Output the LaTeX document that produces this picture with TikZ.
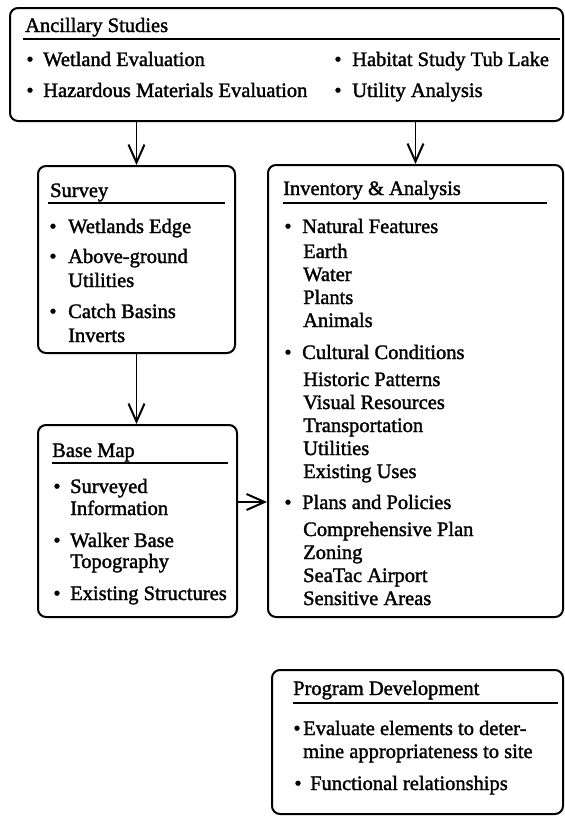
\documentclass[tikz,border=0pt]{standalone}
\usepackage{fontspec}
\setmainfont{Liberation Serif}[FakeBold=1.6]
\usetikzlibrary{arrows.meta}
\newcommand\fs{\fontsize{20.5}{24}\selectfont}
\tikzset{
  box/.style={draw=black, line width=2pt, rounded corners=8pt, inner sep=0pt},
  uline/.style={draw=black, line width=1.7pt},
  txt/.style={anchor=base west, inner sep=0pt, font=\fs},
  bul/.style={anchor=base, inner sep=0pt, font=\fs},
  arr/.style={draw=black, line width=1.5pt, -{Straight Barb[length=18pt,width=16pt,line width=2pt]}},
}
\newcommand\Item[5]{\node[bul] (#1b) at (#2,#4) {\textbullet}; \node[txt] (#1) at (#3,#4) {#5};}
\begin{document}
\begin{tikzpicture}[x=1pt,y=-1pt]
\useasboundingbox (0,0) rectangle (565,817);
% boxes
\node[box, minimum width=553pt, minimum height=113pt] (anc) at (286.5,64.5) {};
\node[box, minimum width=197pt, minimum height=187pt] (survey) at (136.5,259.5) {};
\node[box, minimum width=199pt, minimum height=192pt] (base) at (137.5,521) {};
\node[box, minimum width=295pt, minimum height=452pt] (inv) at (415.5,391) {};
\node[box, minimum width=291pt, minimum height=144pt] (prog) at (417.5,742) {};
% Ancillary
\node[txt] (ancT) at (25,32) {Ancillary Studies};
\draw[uline] (23,39) -- (560,39);
\Item{a1}{30}{43}{66}{Wetland Evaluation}
\Item{a2}{30}{43}{97}{Hazardous Materials Evaluation}
\Item{a3}{338}{352}{66}{Habitat Study Tub Lake}
\Item{a4}{338}{352}{97}{Utility Analysis}
% Survey
\node[txt] (surT) at (50,197) {Survey};
\draw[uline] (48,203) -- (225,203);
\Item{s1}{53}{68}{233}{Wetlands Edge}
\Item{s2}{53}{68}{263}{Above-ground}
\node[txt] (s2b2) at (68,287) {Utilities};
\Item{s3}{53}{68}{318}{Catch Basins}
\node[txt] (s3b2) at (68,342) {Inverts};
% Base Map
\node[txt] (basT) at (52,457) {Base Map};
\draw[uline] (52,463) -- (228,463);
\Item{b1}{57}{70}{493}{Surveyed}
\node[txt] (b1x) at (70,515) {Information};
\Item{b2}{57}{70}{547}{Walker Base}
\node[txt] (b2x) at (70,568) {Topography};
\Item{b3}{57}{70}{600}{Existing Structures}
% Inventory
\node[txt] (invT) at (283,195) {Inventory \& Analysis};
\draw[uline] (283,203) -- (547,203);
\Item{i1}{288}{302}{233}{Natural Features}
\node[txt] (i11) at (303,258) {Earth};
\node[txt] (i12) at (303,281) {Water};
\node[txt] (i13) at (303,304) {Plants};
\node[txt] (i14) at (303,327) {Animals};
\Item{i2}{288}{302}{359}{Cultural Conditions}
\node[txt] (i21) at (303,386) {Historic Patterns};
\node[txt] (i22) at (303,409) {Visual Resources};
\node[txt] (i23) at (303,432) {Transportation};
\node[txt] (i24) at (303,455) {Utilities};
\node[txt] (i25) at (303,478) {Existing Uses};
\Item{i3}{288}{302}{509}{Plans and Policies}
\node[txt] (i31) at (303,536) {Comprehensive Plan};
\node[txt] (i32) at (303,559) {Zoning};
\node[txt] (i33) at (303,582) {SeaTac Airport};
\node[txt] (i34) at (303,605) {Sensitive Areas};
% Program Development
\node[txt] (proT) at (293,695) {Program Development};
\draw[uline] (293,703) -- (558,703);
\Item{p1}{297}{303}{735}{Evaluate elements to deter-}
\node[txt] (p1x) at (303,758) {mine appropriateness to site};
\Item{p2}{298}{310}{790}{Functional relationships}
% arrows
\coordinate (ar) at (250,502);
\draw[arr] (anc.south -| survey.north) -- (survey.north);
\draw[arr] (anc.south -| inv.north) -- (inv.north);
\draw[arr] (survey.south) -- (survey.south |- base.north);
\draw[arr] (base.east |- ar) -- (inv.west |- ar);
\end{tikzpicture}
\end{document}
